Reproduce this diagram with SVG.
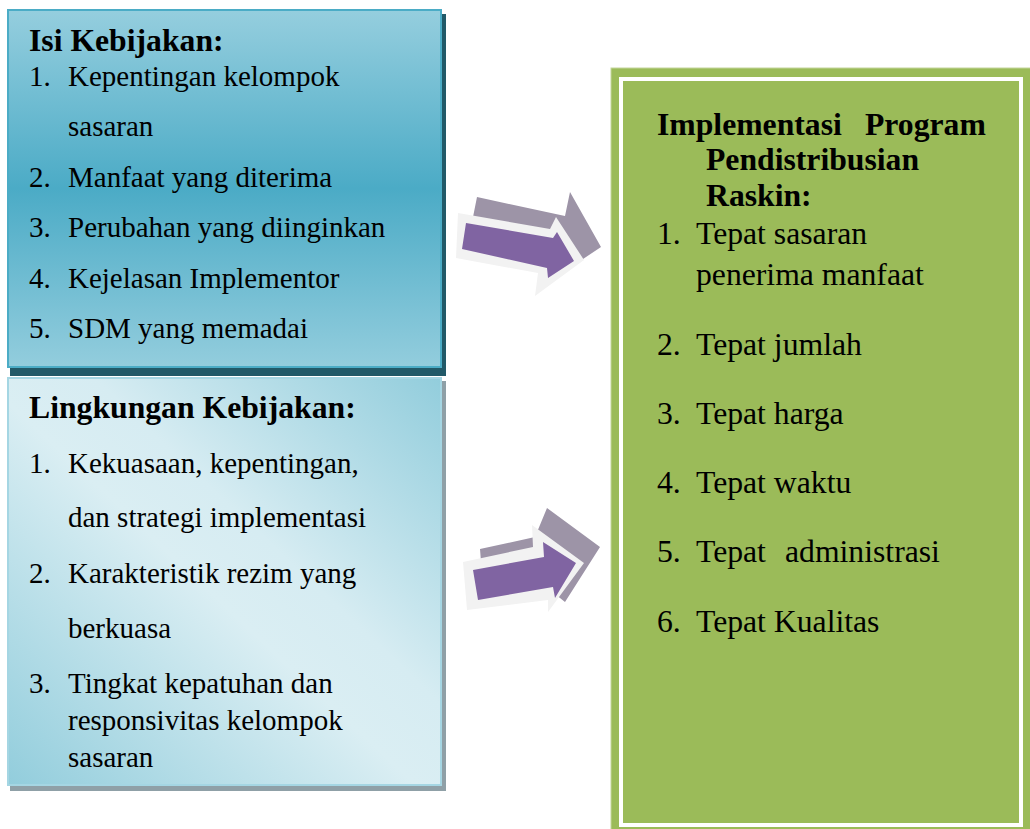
<svg xmlns="http://www.w3.org/2000/svg" width="1030" height="829" viewBox="0 0 1030 829">
  <defs>
    <linearGradient id="gTop" x1="0" y1="0" x2="0" y2="1">
      <stop offset="0" stop-color="#95cede"/>
      <stop offset="0.5" stop-color="#4babc6"/>
      <stop offset="1" stop-color="#93cddd"/>
    </linearGradient>
    <linearGradient id="gBottom" x1="0" y1="1" x2="1" y2="0">
      <stop offset="0" stop-color="#92cddc"/>
      <stop offset="0.47" stop-color="#daeef3"/>
      <stop offset="0.6" stop-color="#d6ecf2"/>
      <stop offset="1" stop-color="#92cddc"/>
    </linearGradient>
    <style>
      .t { font-family: "Liberation Serif", "Times New Roman", serif; fill: #000; }
      .ln { font-size: 29px; }
      .lb { font-size: 31.7px; font-weight: bold; }
      .rn { font-size: 31.7px; }
      .rb { font-size: 31.7px; font-weight: bold; }
      .gray { fill: #9d94a7; }
      .halo { fill: #f2f2f2; }
      .purple { fill: #8064a2; }
    </style>
  </defs>
  <rect width="1030" height="829" fill="#ffffff"/>

  <g id="node-isi">
    <rect x="10" y="14" width="436" height="362" fill="#215968"/>
    <rect x="8" y="10" width="433" height="357" fill="url(#gTop)" stroke="#4bacc6" stroke-width="2"/>
    <text class="t lb" x="29" y="51">Isi Kebijakan:</text>
    <text class="t ln" x="29" y="86">1.</text>
    <text class="t ln" x="68" y="86">Kepentingan kelompok</text>
    <text class="t ln" x="68" y="136">sasaran</text>
    <text class="t ln" x="29" y="187">2.</text>
    <text class="t ln" x="68" y="187">Manfaat yang diterima</text>
    <text class="t ln" x="29" y="237">3.</text>
    <text class="t ln" x="68" y="237">Perubahan yang diinginkan</text>
    <text class="t ln" x="29" y="288">4.</text>
    <text class="t ln" x="68" y="288">Kejelasan Implementor</text>
    <text class="t ln" x="29" y="338">5.</text>
    <text class="t ln" x="68" y="338">SDM yang memadai</text>
  </g>

  <g id="node-lingkungan">
    <rect x="10" y="381" width="436" height="410" fill="#8fa0a7"/>
    <rect x="8" y="378" width="433" height="407" fill="url(#gBottom)" stroke="#a5d6e3" stroke-width="2"/>
    <text class="t lb" x="29" y="418">Lingkungan Kebijakan:</text>
    <text class="t ln" x="29" y="473">1.</text>
    <text class="t ln" x="68" y="473">Kekuasaan, kepentingan,</text>
    <text class="t ln" x="68" y="527">dan strategi implementasi</text>
    <text class="t ln" x="29" y="583">2.</text>
    <text class="t ln" x="68" y="583">Karakteristik rezim yang</text>
    <text class="t ln" x="68" y="638">berkuasa</text>
    <text class="t ln" x="29" y="693">3.</text>
    <text class="t ln" x="68" y="693">Tingkat kepatuhan dan</text>
    <text class="t ln" x="68" y="730">responsivitas kelompok</text>
    <text class="t ln" x="68" y="767">sasaran</text>
  </g>

  <g id="node-implementasi">
    <rect x="611" y="68" width="425" height="765" fill="#9bbb59" stroke="#c3d69b" stroke-width="1"/>
    <rect x="621" y="79" width="400" height="746" fill="none" stroke="#ffffff" stroke-width="4"/>
    <text class="t rb" x="657" y="135">Implementasi <tspan x="865">Program</tspan></text>
    <text class="t rb" x="706" y="170">Pendistribusian</text>
    <text class="t rb" x="706" y="206">Raskin:</text>
    <text class="t rn" x="657" y="244">1.</text>
    <text class="t rn" x="696" y="244">Tepat sasaran</text>
    <text class="t rn" x="696" y="285">penerima manfaat</text>
    <text class="t rn" x="657" y="355">2.</text>
    <text class="t rn" x="696" y="355">Tepat jumlah</text>
    <text class="t rn" x="657" y="424">3.</text>
    <text class="t rn" x="696" y="424">Tepat harga</text>
    <text class="t rn" x="657" y="493">4.</text>
    <text class="t rn" x="696" y="493">Tepat waktu</text>
    <text class="t rn" x="657" y="562">5.</text>
    <text class="t rn" x="696" y="562">Tepat <tspan x="785">administrasi</tspan></text>
    <text class="t rn" x="657" y="632">6.</text>
    <text class="t rn" x="696" y="632">Tepat Kualitas</text>
  </g>

  <g id="connectors">
    <g id="arrow-top">
      <polygon class="gray" points="477,197 565,216 570,192 601,247 580,261 540,255 470,232"/>
      <polygon class="halo" points="458,213 550,229 556,217 584,260 535,296 538,273 456,258"/>
      <polygon class="purple" points="466,223 553,238 557,232 574,261 548,278 547,268 462,249"/>
    </g>
    <g id="arrow-bottom">
      <polygon class="gray" points="480,549 535,537 547,508 600,547 565,602 550,590 482,575"/>
      <polygon class="halo" points="463,562 533,547 532,525 584,563 548,612 548,600 467,610"/>
      <polygon class="purple" points="473,570 544,557 543,542 576,563 555,598 553,587 478,600"/>
    </g>
  </g>
</svg>
